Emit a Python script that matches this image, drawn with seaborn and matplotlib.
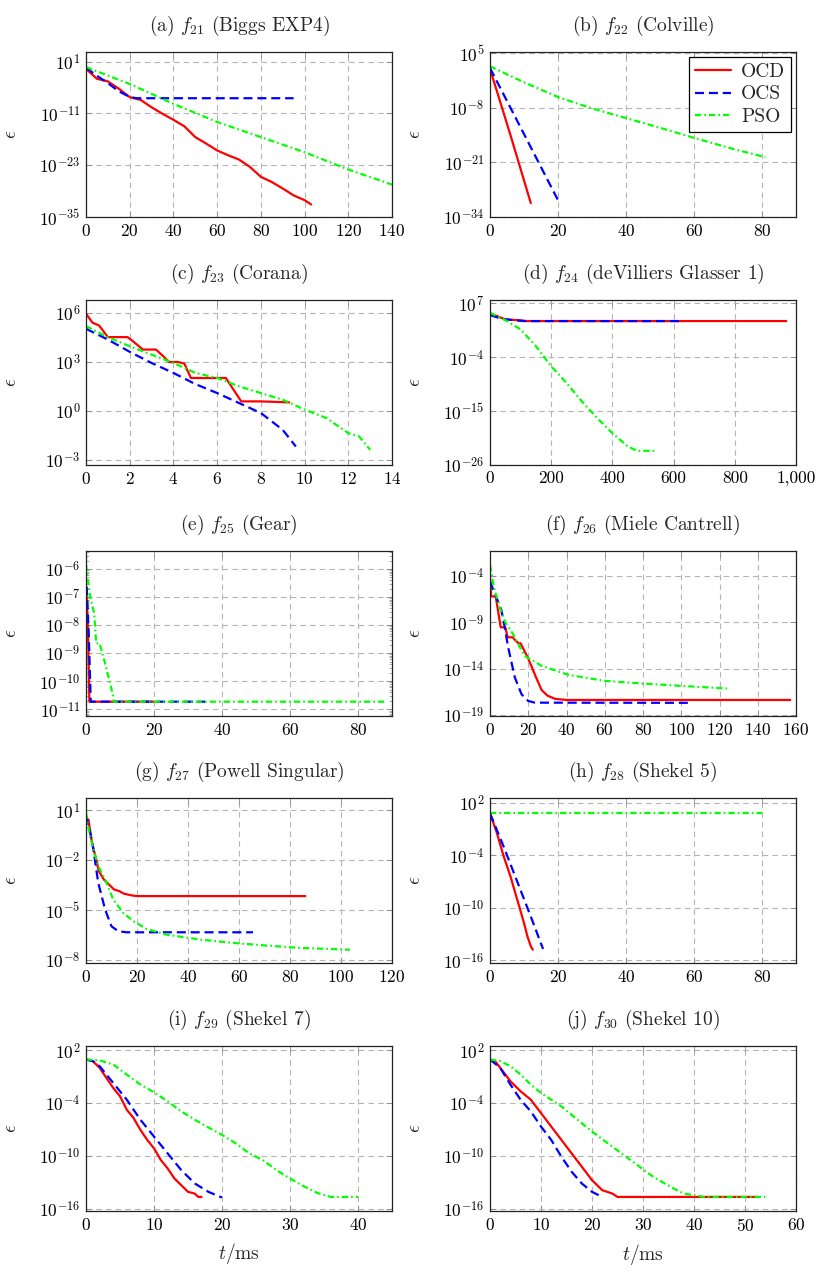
import numpy as np
import pandas as pd
import matplotlib
matplotlib.use("Agg")
import matplotlib.pyplot as plt
import seaborn as sns
from matplotlib.ticker import FixedLocator, NullLocator, FuncFormatter, LogFormatterSciNotation, LogLocator

# time in ms, error given as log10 exponent
f21_ocd_t = [0, 5, 10, 15, 20, 25, 30, 35, 40, 45, 50, 55, 60, 65, 70, 75, 80, 85, 90, 95, 100, 103]
f21_ocd_e = [-0.7, -3.0, -3.6, -5.3, -7.25, -7.9, -9.6, -11.1, -12.5, -14.0, -16.5, -18.0, -19.6, -20.7,
             -21.7, -23.4, -25.7, -26.9, -28.4, -30.0, -31.1, -32.1]
f21_ocs_t = [0, 5, 10, 15, 20, 23, 95]
f21_ocs_e = [-0.4, -2.3, -4.0, -5.9, -7.2, -7.5, -7.5]
f21_pso_t = [0, 20, 40, 60, 80, 100, 120, 140]
f21_pso_e = [-0.3, -4.2, -8.8, -13.0, -16.5, -20.0, -24.0, -27.5]

f22_ocd_t = [0, 6, 12]
f22_ocd_e = [1.2, -14.5, -30.7]
f22_ocs_t = [0, 10, 20]
f22_ocs_e = [1.4, -14.3, -30.0]
f22_pso_t = [0, 10, 20, 30, 40, 50, 60, 70, 81]
f22_pso_e = [1.8, -2.0, -5.5, -8.2, -10.5, -12.8, -15.2, -17.5, -19.8]

f23_ocd_t = [0, 0.3, 0.6, 1.0, 1.9, 2.2, 2.6, 3.2, 3.5, 3.8, 4.2, 4.5, 4.8, 6.4, 7.1, 8.0, 9.3]
f23_ocd_e = [5.94, 5.39, 5.22, 4.51, 4.51, 4.20, 3.75, 3.75, 3.38, 2.99, 2.99, 2.89, 2.01, 2.01, 0.58, 0.58, 0.52]
f23_ocs_t = [0, 1, 2, 3, 4, 5, 6, 7, 8, 9, 9.6]
f23_ocs_e = [5.02, 4.36, 3.61, 2.93, 2.32, 1.64, 1.09, 0.48, -0.13, -1.16, -2.18]
f23_pso_t = [0, 1, 2, 3, 4, 5, 6, 7, 8, 9, 10, 11, 12, 12.5, 13]
f23_pso_e = [5.18, 4.51, 3.95, 3.44, 2.93, 2.32, 2.01, 1.50, 1.09, 0.68, 0.08, -0.44, -1.36, -1.57, -2.38]

f24_ocd_t = [0, 50, 100, 120, 968]
f24_ocd_e = [4.95, 3.72, 3.52, 3.38, 3.38]
f24_ocs_t = [0, 40, 110, 622]
f24_ocs_e = [4.6, 3.8, 3.38, 3.38]
f24_pso_t = [0, 50, 100, 150, 200, 250, 300, 350, 400, 450, 480, 540]
f24_pso_e = [5.09, 3.58, 1.67, -1.74, -5.84, -9.26, -13.0, -16.4, -19.5, -22.2, -23.1, -23.1]

f25_ocd_t = [0.2, 0.6, 1.0, 20]
f25_ocd_e = [-6.99, -8.29, -10.73, -10.73]
f25_ocs_t = [0.2, 0.8, 1.4, 35]
f25_ocs_e = [-6.63, -8.3, -10.73, -10.73]
f25_pso_t = [0, 1.2, 2.4, 3.0, 4.0, 5.6, 7.8, 8.2, 88]
f25_pso_e = [-5.86, -6.99, -7.58, -8.65, -8.65, -9.36, -10.43, -10.73, -10.73]

f26_ocd_t = [0, 0.6, 3, 5.6, 8, 9.2, 12, 13, 15, 16, 20, 24, 27, 30, 34, 40, 157]
f26_ocd_e = [-4.1, -6.2, -6.2, -9.53, -9.53, -10.61, -10.61, -10.9, -11.26, -11.26, -12.9, -14.9,
             -16.3, -16.9, -17.25, -17.37, -17.37]
f26_ocs_t = [0, 3, 6, 7.7, 9.5, 13, 16.5, 20, 23.5, 104]
f26_ocs_e = [-4.6, -6.1, -7.72, -9.53, -11.7, -14.95, -16.76, -17.48, -17.66, -17.68]
f26_pso_t = [0, 2, 5, 8, 12, 18, 27, 41, 60, 80, 100, 124]
f26_pso_e = [-2.84, -5.19, -7.36, -8.99, -10.25, -12.6, -13.69, -14.66, -15.31, -15.6, -15.85, -16.14]

f27_ocd_t = [0, 1, 2, 3, 4, 5, 7, 9, 11, 13, 15, 18, 20, 86]
f27_ocd_e = [0.56, 0.42, -0.65, -1.36, -1.96, -2.66, -3.17, -3.47, -3.77, -3.87, -4.03, -4.13, -4.17, -4.17]
f27_ocs_t = [0, 1.5, 2.9, 4.8, 7.5, 10, 12.7, 16, 65.5]
f27_ocs_e = [0.66, -0.2, -1.36, -3.37, -4.98, -5.99, -6.29, -6.35, -6.35]
f27_pso_t = [0, 1.3, 2.9, 4.8, 7.5, 10.7, 14.6, 18.6, 23.8, 31.6, 44.7, 57.8, 70.8, 83.9, 103.5]
f27_pso_e = [0.86, -0.35, -1.36, -2.36, -3.17, -4.38, -5.18, -5.68, -6.15, -6.49, -6.79, -6.99, -7.15,
             -7.29, -7.40]

f28_ocd_t = [0, 2, 4, 6, 8, 10, 11, 12, 12.6]
f28_ocd_e = [0.78, -1.43, -4.10, -6.39, -9.06, -11.73, -13.26, -14.40, -14.78]
f28_ocs_t = [0, 4, 8, 12, 15.6]
f28_ocs_e = [0.78, -3.0, -7.0, -11.0, -14.7]
f28_pso_t = [0, 80]
f28_pso_e = [0.82, 0.82]

f29_ocd_t = [0, 1, 2, 3, 4, 5, 6, 7, 8, 9, 10, 11, 12, 13, 14, 15, 16, 16.5, 17]
f29_ocd_e = [0.97, 0.78, 0.02, -1.13, -2.27, -3.22, -4.75, -5.70, -7.04, -8.18, -9.14, -10.47, -11.42,
             -12.57, -13.33, -14.09, -14.29, -14.67, -14.67]
f29_ocs_t = [0, 1, 2, 4, 6, 8, 10, 12, 14, 16, 18, 20]
f29_ocs_e = [0.97, 0.78, 0.21, -1.70, -3.61, -5.89, -7.80, -9.71, -11.61, -13.14, -14.09, -14.74]
f29_pso_t = [0, 2, 4, 6, 8, 10, 12, 14, 16, 18, 20, 22, 24, 26, 28, 30, 32, 34, 36, 40]
f29_pso_e = [0.97, 0.86, 0.40, -0.75, -1.89, -2.77, -3.80, -4.94, -5.89, -6.77, -7.61, -8.56, -9.71,
             -10.47, -11.62, -12.57, -13.45, -14.21, -14.67, -14.67]

f30_ocd_t = [0, 1, 2, 4, 6, 8, 10, 12, 14, 16, 18, 20, 22, 24, 25, 52.5]
f30_ocd_e = [0.97, 0.78, 0.02, -1.51, -2.65, -3.61, -5.13, -6.66, -8.18, -9.71, -11.23, -12.76, -13.90,
             -14.29, -14.67, -14.67]
f30_ocs_t = [0, 2, 4, 6, 8, 10, 12, 14, 16, 18, 20, 22]
f30_ocs_e = [0.97, 0.02, -1.89, -3.61, -4.94, -6.66, -8.18, -10.09, -11.80, -13.14, -14.09, -14.67]
f30_pso_t = [0, 2, 4, 6, 8, 10, 14, 18, 20, 24, 28, 32, 36, 38, 40, 42, 54]
f30_pso_e = [0.97, 0.78, 0.21, -0.75, -1.89, -2.84, -4.37, -6.28, -7.23, -8.95, -10.66, -12.38, -13.71,
             -14.29, -14.48, -14.67, -14.67]

titles = ["(a) $f_{21}$ (Biggs EXP4)", "(b) $f_{22}$ (Colville)", "(c) $f_{23}$ (Corana)",
          "(d) $f_{24}$ (deVilliers Glasser 1)", "(e) $f_{25}$ (Gear)", "(f) $f_{26}$ (Miele Cantrell)",
          "(g) $f_{27}$ (Powell Singular)", "(h) $f_{28}$ (Shekel 5)", "(i) $f_{29}$ (Shekel 7)",
          "(j) $f_{30}$ (Shekel 10)"]
series = [
    (f21_ocd_t, f21_ocd_e, f21_ocs_t, f21_ocs_e, f21_pso_t, f21_pso_e),
    (f22_ocd_t, f22_ocd_e, f22_ocs_t, f22_ocs_e, f22_pso_t, f22_pso_e),
    (f23_ocd_t, f23_ocd_e, f23_ocs_t, f23_ocs_e, f23_pso_t, f23_pso_e),
    (f24_ocd_t, f24_ocd_e, f24_ocs_t, f24_ocs_e, f24_pso_t, f24_pso_e),
    (f25_ocd_t, f25_ocd_e, f25_ocs_t, f25_ocs_e, f25_pso_t, f25_pso_e),
    (f26_ocd_t, f26_ocd_e, f26_ocs_t, f26_ocs_e, f26_pso_t, f26_pso_e),
    (f27_ocd_t, f27_ocd_e, f27_ocs_t, f27_ocs_e, f27_pso_t, f27_pso_e),
    (f28_ocd_t, f28_ocd_e, f28_ocs_t, f28_ocs_e, f28_pso_t, f28_pso_e),
    (f29_ocd_t, f29_ocd_e, f29_ocs_t, f29_ocs_e, f29_pso_t, f29_pso_e),
    (f30_ocd_t, f30_ocd_e, f30_ocs_t, f30_ocs_e, f30_pso_t, f30_pso_e),
]
y_ticks = [[1, -11, -23, -35], [5, -8, -21, -34], [6, 3, 0, -3], [7, -4, -15, -26],
           [-6, -7, -8, -9, -10, -11], [-4, -9, -14, -19], [1, -2, -5, -8], [2, -4, -10, -16],
           [2, -4, -10, -16], [2, -4, -10, -16]]
y_lims = [(-35, 3.2), (-34, 5.2), (-3.31, 6.78), (-26, 7.68), (-11.24, -5.36), (-19.1, -1.3),
          (-8.2, 1.74), (-16.3, 2.53), (-16.27, 2.5), (-16.27, 2.5)]
x_lims = [140, 90, 14, 1000, 90, 160, 120, 90, 45, 60]
x_steps = [20, 20, 2, 200, 20, 20, 20, 20, 10, 10]
x_tick_max = [140, 80, 14, 1000, 80, 160, 120, 80, 40, 60]

names = ["OCD", "OCS", "PSO"]
colors = ["#ff0000", "#0000ff", "#00ff00"]

sns.set_style("ticks")
plt.rcParams.update({
    "font.family": "serif",
    "font.serif": ["cmr10", "DejaVu Serif"],
    "mathtext.fontset": "cm",
    "axes.unicode_minus": False,
    "axes.formatter.use_mathtext": True,
    "lines.scale_dashes": False,
})

fig = plt.figure(figsize=(8.3, 12.74), dpi=100)
W, H = 830, 1274
col_left = [86, 490]
row_top = [52, 300, 551, 798, 1046]
ax_w, ax_h = 306, 165

for i in range(10):
    r, c = divmod(i, 2)
    ax = fig.add_axes([col_left[c] / W, 1 - (row_top[r] + ax_h) / H, ax_w / W, ax_h / H])
    ax.set_yscale("log")
    data = series[i]
    for k in range(3):
        df = pd.DataFrame({"t": data[2 * k], "eps": 10.0 ** np.array(data[2 * k + 1])})
        sns.lineplot(data=df, x="t", y="eps", ax=ax, color=colors[k], lw=1.6, sort=False,
                     estimator=None, label=names[k] if i == 1 else None, legend=False)
        line = ax.lines[-1]
        if k == 1:
            line.set_dashes((6.5, 3.5))
        elif k == 2:
            line.set_dashes((4.5, 2.2, 1.2, 2.2))

    ax.set_xlim(0, x_lims[i])
    ax.set_ylim(10.0 ** y_lims[i][0], 10.0 ** y_lims[i][1])
    ax.xaxis.set_major_locator(FixedLocator(np.arange(0, x_tick_max[i] + 1e-9, x_steps[i])))
    if i == 3:
        ax.xaxis.set_major_formatter(FuncFormatter(lambda v, p: f"{v:,.0f}"))
    ax.yaxis.set_major_locator(FixedLocator([10.0 ** e for e in y_ticks[i]]))
    ax.yaxis.set_major_formatter(LogFormatterSciNotation())
    if i == 4:
        ax.yaxis.set_minor_locator(LogLocator(base=10, subs=np.arange(2, 10), numticks=50))
    else:
        ax.yaxis.set_minor_locator(NullLocator())
    ax.xaxis.set_minor_locator(NullLocator())

    ax.grid(True, which="major", color="#b5b5b5", lw=0.8, dashes=(4, 3))
    ax.tick_params(which="both", direction="in", top=True, right=True, color="#8a8a8a",
                   labelsize=12.5, pad=4, labelcolor="black")
    ax.tick_params(which="major", length=4, width=0.6)
    ax.tick_params(which="minor", length=2.5, width=0.5)
    for s in ax.spines.values():
        s.set_color("#222222")
        s.set_linewidth(0.9)

    ax.set_title(titles[i], fontsize=14, pad=15)
    ax.set_xlabel("")
    ax.set_ylabel(r"$\epsilon$", fontsize=14)
    ax.yaxis.set_label_coords(-66 / ax_w, 0.5)
    if r == 4:
        ax.set_xlabel(r"$t/\mathrm{ms}$", fontsize=14, labelpad=6)
    if i == 1:
        leg = ax.legend(loc="upper right", fontsize=14, frameon=True, fancybox=False, framealpha=1,
                        edgecolor="black", borderaxespad=0.25, handlelength=1.9, borderpad=0.3,
                        labelspacing=0.25, handletextpad=0.5)
        leg.get_frame().set_linewidth(0.9)

fig.savefig("out.png", dpi=100)
